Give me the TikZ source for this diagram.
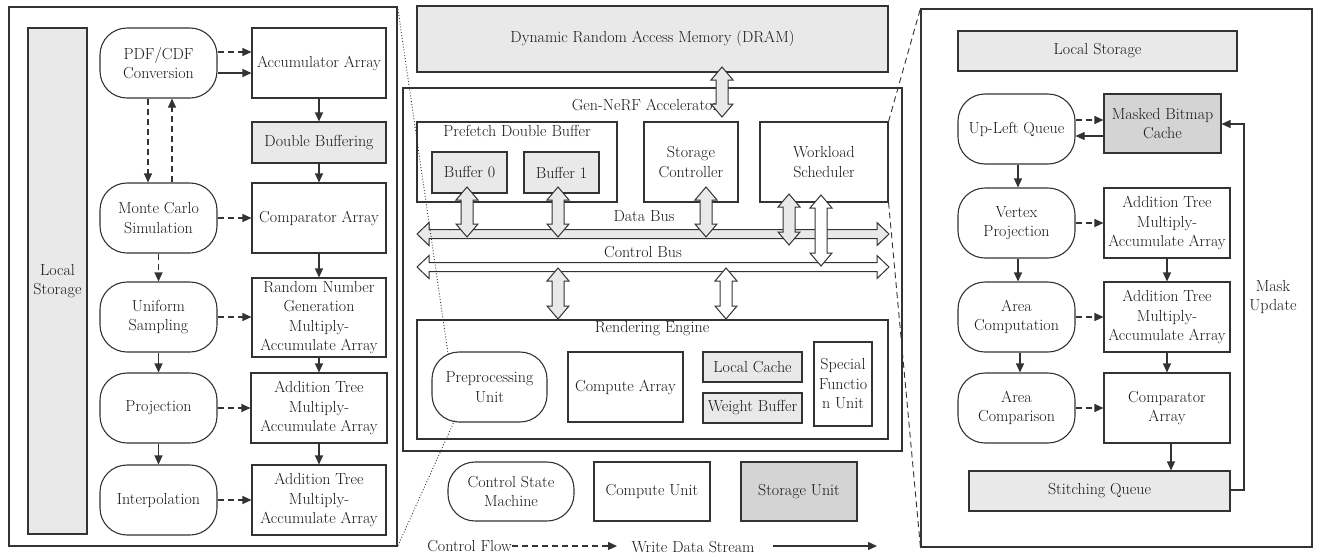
\documentclass[tikz,border=0pt]{standalone}
\usetikzlibrary{arrows.meta,calc}

\definecolor{linec}{HTML}{333333}
\definecolor{lightg}{HTML}{E9E9E9}
\definecolor{darkg}{HTML}{D4D4D4}

\tikzset{
  blk/.style={draw=linec, line width=1.1pt, rectangle, inner sep=0.5pt, align=center, text=black!90},
  rblk/.style={blk, rounded corners=27pt},
  conn/.style={draw=linec, line width=1.1pt, -{Triangle[length=9pt,width=8pt]}},
  dconn/.style={conn, dash pattern=on 6pt off 4pt},
  plain/.style={text=black!90, inner sep=0pt, align=center},
}

% vertical fat double arrow: x, y top, y bottom, fill
\newcommand\vfat[4]{\filldraw[fill=#4,draw=linec,line width=1pt,line join=miter]
  (#1-6,#2+13) -- (#1-11,#2+13) -- (#1,#2) -- (#1+11,#2+13) -- (#1+6,#2+13)
  -- (#1+6,#3-13) -- (#1+11,#3-13) -- (#1,#3) -- (#1-11,#3-13) -- (#1-6,#3-13) -- cycle;}
% horizontal fat double arrow (bus): y, x left, x right, fill
\newcommand\hfat[4]{\filldraw[fill=#4,draw=linec,line width=1pt,line join=miter]
  (#2+12,#1-4.5) -- (#2+12,#1-11.5) -- (#2,#1) -- (#2+12,#1+11.5) -- (#2+12,#1+4.5)
  -- (#3-12,#1+4.5) -- (#3-12,#1+11.5) -- (#3,#1) -- (#3-12,#1-11.5) -- (#3-12,#1-4.5) -- cycle;}

\begin{document}
\begin{tikzpicture}[x=1pt,y=-1pt,font=\fontsize{16}{19.5}\selectfont]
\useasboundingbox (0,0) rectangle (1321,555);

% ---------------- left panel: sampling pipeline ----------------
\node[blk, minimum width=388pt, minimum height=539pt] (lpanel) at (203,276.5) {};
\node[blk, fill=lightg, minimum width=59pt, minimum height=506pt] (lls) at (57.5,281) {Local\\Storage};

\node[rblk, minimum width=117pt, minimum height=70pt] (pdf) at (158.5,63) {PDF/CDF\\Conversion};
\node[rblk, minimum width=117pt, minimum height=70pt] (mc) at (158.5,218) {Monte Carlo\\Simulation};
\node[rblk, minimum width=117pt, minimum height=70pt] (us) at (158.5,317) {Uniform\\Sampling};
\node[rblk, minimum width=117pt, minimum height=70pt] (proj) at (158.5,408) {Projection};
\node[rblk, minimum width=117pt, minimum height=70pt] (interp) at (158.5,500) {Interpolation};

\node[blk, minimum width=134pt, minimum height=70pt] (acc) at (319,63) {Accumulator Array};
\node[blk, fill=lightg, minimum width=134pt, minimum height=41pt] (dbuf) at (319,142.5) {Double Buffering};
\node[blk, minimum width=134pt, minimum height=70pt] (cmp) at (319,218) {Comparator Array};
\node[blk, minimum width=134pt, minimum height=79pt] (rng) at (319,317.5) {Random Number\\Generation\\Multiply-\\Accumulate Array};
\node[blk, minimum width=136pt, minimum height=70pt] (at1) at (319,408) {Addition Tree\\Multiply-\\Accumulate Array};
\node[blk, minimum width=134pt, minimum height=70pt] (at2) at (319,500) {Addition Tree\\Multiply-\\Accumulate Array};

\coordinate (pa1) at ($(pdf.east)+(0,-11)$);
\coordinate (pa2) at ($(pdf.east)+(0,10)$);
\coordinate (pm1) at ($(pdf.south)+(-10.5,0)$);
\coordinate (pm2) at ($(mc.north)+(13.5,0)$);
\draw[dconn] (pa1) -- (pa1 -| acc.west);
\draw[conn]  (pa2) -- (pa2 -| acc.west);
\draw[dconn] (pm1) -- (pm1 |- mc.north);
\draw[dconn] (pm2) -- (pm2 |- pdf.south);
\draw[dconn] (mc.east) -- (mc.east -| cmp.west);
\draw[dconn] (mc.south) -- (us.north);
\draw[conn]  (us.south) -- (proj.north);
\draw[conn]  (proj.south) -- (interp.north);
\draw[dconn] (us.east) -- (us.east -| rng.west);
\draw[dconn] (proj.east) -- (proj.east -| at1.west);
\draw[dconn] (interp.east) -- (interp.east -| at2.west);
\draw[conn] (acc.south) -- (dbuf.north);
\draw[conn] (dbuf.south) -- (cmp.north);
\draw[conn] (cmp.south) -- (rng.north);
\draw[conn] (rng.south) -- (at1.north);
\draw[conn] (at1.south) -- (at2.north);

% ---------------- middle: accelerator ----------------
\node[blk, fill=lightg, minimum width=471pt, minimum height=66pt] (dram) at (652.5,39) {Dynamic Random Access Memory (DRAM)};
\node[blk, minimum width=499pt, minimum height=363pt] (gen) at (652.5,269.5) {};
\node[plain] (genl) at (645,105) {Gen-NeRF Accelerator};

\node[blk, minimum width=200pt, minimum height=80pt] (pdb) at (517,162) {};
\node[plain] (pdbl) at (517,131) {Prefetch Double Buffer};
\node[blk, fill=lightg, minimum width=75pt, minimum height=41pt] (b0) at (469.5,172.5) {Buffer 0};
\node[blk, fill=lightg, minimum width=75pt, minimum height=41pt] (b1) at (561.5,172.5) {Buffer 1};
\node[blk, minimum width=94pt, minimum height=80pt] (sc) at (691,162) {Storage\\Controller};
\node[blk, minimum width=128pt, minimum height=80pt] (ws) at (824,162) {Workload\\Scheduler};

\node[plain] (dbl) at (644,216) {Data Bus};
\node[plain] (cbl) at (643,252) {Control Bus};

% buses
\hfat{234}{417}{889}{lightg}
\hfat{267}{417}{889}{white}

% ports onto the buses
\vfat{722}{67}{117}{lightg}
\vfat{467}{187}{237}{lightg}
\vfat{558}{187}{237}{lightg}
\vfat{706}{187}{237}{lightg}
\vfat{789}{194}{245}{lightg}
\vfat{821}{195}{266}{white}
\vfat{558}{268}{319}{lightg}
\vfat{726}{268}{319}{white}

% rendering engine
\node[blk, minimum width=471pt, minimum height=119pt] (re) at (652.5,379.5) {};
\node[plain] (rel) at (652,329) {Rendering Engine};
\node[rblk, minimum width=115pt, minimum height=70pt] (pre) at (489.5,387) {Preprocessing\\Unit};
\node[blk, minimum width=115pt, minimum height=70pt] (ca) at (625.5,387) {Compute Array};
\node[blk, fill=lightg, minimum width=99pt, minimum height=30pt] (lc) at (752.5,367) {Local Cache};
\node[blk, fill=lightg, minimum width=99pt, minimum height=30pt] (wb) at (752.5,408) {Weight Buffer};
\node[blk, minimum width=58pt, minimum height=84pt] (sfu) at (843,384) {Special\\Functio\\n Unit};

% key
\node[rblk, minimum width=126pt, minimum height=59pt] (csm) at (511,491.5) {Control State\\Machine};
\node[blk, minimum width=116pt, minimum height=59pt] (cu) at (652,491.5) {Compute Unit};
\node[blk, fill=darkg, minimum width=116pt, minimum height=59pt] (su) at (799,491.5) {Storage Unit};

\node[plain, anchor=east] (cfl) at (512,546) {Control Flow};
\coordinate (cfe) at (617,546);
\draw[dconn] (cfl.east) -- (cfe);
\node[plain] (wds) at (693,547) {Write Data Stream};
\coordinate (wdsa) at (773,546);
\coordinate (wdsb) at (877,546);
\draw[conn] (wdsa) -- (wdsb);

% ---------------- right panel: mask pipeline ----------------
\node[blk, minimum width=391pt, minimum height=538pt] (rpanel) at (1116.5,278) {};
\node[blk, fill=lightg, minimum width=279pt, minimum height=40pt] (rls) at (1097.5,51) {Local Storage};

\node[rblk, minimum width=117pt, minimum height=70pt] (ulq) at (1016.5,129) {Up-Left Queue};
\node[rblk, minimum width=117pt, minimum height=70pt] (vp) at (1016.5,223) {Vertex\\Projection};
\node[rblk, minimum width=117pt, minimum height=70pt] (ac) at (1016.5,317) {Area\\Computation};
\node[rblk, minimum width=117pt, minimum height=70pt] (acmp) at (1016.5,408) {Area\\Comparison};

\node[blk, fill=darkg, minimum width=117pt, minimum height=59pt] (mbc) at (1162.5,123.5) {Masked Bitmap\\Cache};
\node[blk, minimum width=126pt, minimum height=70pt] (rat1) at (1167,223) {Addition Tree\\Multiply-\\Accumulate Array};
\node[blk, minimum width=126pt, minimum height=70pt] (rat2) at (1167,317) {Addition Tree\\Multiply-\\Accumulate Array};
\node[blk, minimum width=126pt, minimum height=70pt] (rcmp) at (1167,408) {Comparator\\Array};
\node[blk, fill=lightg, minimum width=261pt, minimum height=40pt] (stq) at (1099.5,491) {Stitching Queue};
\node[plain] (mul) at (1273,297) {Mask\\Update};

\coordinate (um1) at ($(ulq.east)+(0,-9)$);
\coordinate (mu1) at ($(mbc.west)+(0,12.5)$);
\coordinate (uv) at ($(ulq.south)+(1.5,0)$);
\coordinate (va) at ($(vp.south)+(1.5,0)$);
\coordinate (aa) at ($(ac.south)+(3.5,0)$);
\coordinate (cs) at ($(rcmp.south)+(4,0)$);
\draw[dconn] (um1) -- (um1 -| mbc.west);
\draw[conn]  (mu1) -- (mu1 -| ulq.east);
\draw[conn] (uv) -- (uv |- vp.north);
\draw[conn] (va) -- (va |- ac.north);
\draw[conn] (aa) -- (aa |- acmp.north);
\draw[dconn] (vp.east) -- (vp.east -| rat1.west);
\draw[dconn] (ac.east) -- (ac.east -| rat2.west);
\draw[dconn] (acmp.east) -- (acmp.east -| rcmp.west);
\draw[conn] (rat1.south) -- (rat2.north);
\draw[conn] (rat2.south) -- (rcmp.north);
\draw[conn] (cs) -- (cs |- stq.north);
\coordinate (fb) at (1244,124);
\coordinate (sq) at ($(stq.east)+(0,-1)$);
\draw[conn] (sq) -| (fb) -- (fb -| mbc.east);

% ---------------- zoom guides ----------------
\coordinate (pz1) at ($(pre.north west)+(17,5)$);
\coordinate (pz2) at ($(pre.south west)+(23,-2)$);
\draw[linec, line width=0.9pt, dotted] (lpanel.north east) -- (pz1);
\draw[linec, line width=0.9pt, dotted] (pz2) -- (lpanel.south east);
\draw[linec, line width=0.9pt, dash pattern=on 6pt off 4pt] (ws.north east) -- (rpanel.north west);
\draw[linec, line width=0.9pt, dash pattern=on 6pt off 4pt] (ws.south east) -- (rpanel.south west);
\end{tikzpicture}
\end{document}
